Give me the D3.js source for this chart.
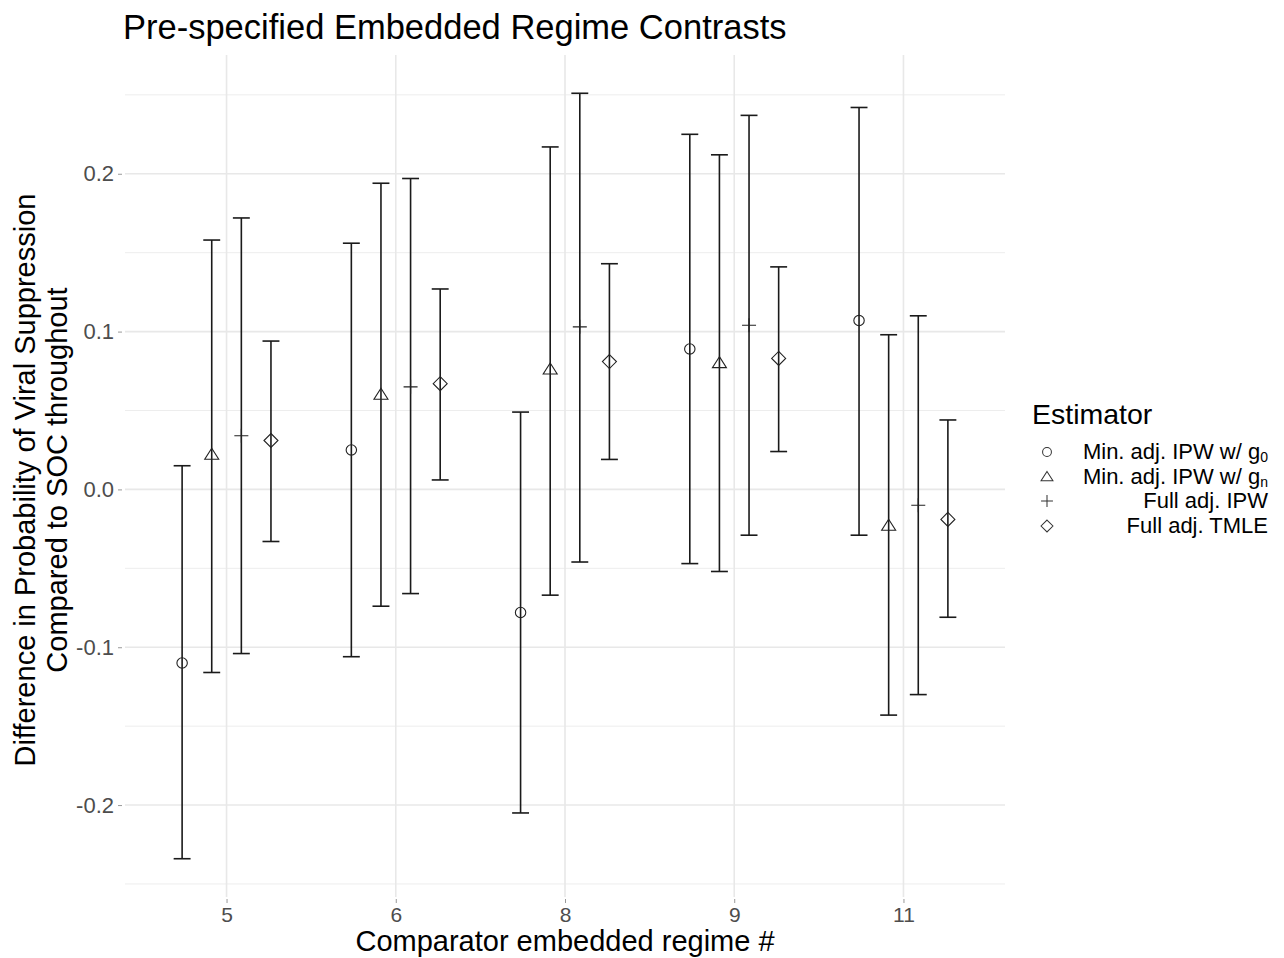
<!DOCTYPE html>
<html>
<head>
<meta charset="utf-8">
<script src="https://cdn.jsdelivr.net/npm/d3@7"></script>
<style>
  body { margin: 0; background: #fff; }
  svg { font-family: "Liberation Sans", Arial, Helvetica, sans-serif; }
</style>
</head>
<body>
<div id="drawing"></div>
<script>
// values
const regimes = ["5", "6", "8", "9", "11"];
const estimators = ["g0", "gn", "ipw", "tmle"];
const estimatorShapes = ["circle", "triangle", "plus", "diamond"];

const g0Est = [-0.110, 0.025, -0.078, 0.089, 0.107];
const g0Lo = [-0.234, -0.106, -0.205, -0.047, -0.029];
const g0Hi = [0.015, 0.156, 0.049, 0.225, 0.242];

const gnEst = [0.022, 0.060, 0.076, 0.080, -0.023];
const gnLo = [-0.116, -0.074, -0.067, -0.052, -0.143];
const gnHi = [0.158, 0.194, 0.217, 0.212, 0.098];

const ipwEst = [0.034, 0.065, 0.103, 0.104, -0.010];
const ipwLo = [-0.104, -0.066, -0.046, -0.029, -0.130];
const ipwHi = [0.172, 0.197, 0.251, 0.237, 0.110];

const tmleEst = [0.031, 0.067, 0.081, 0.083, -0.019];
const tmleLo = [-0.033, 0.006, 0.019, 0.024, -0.081];
const tmleHi = [0.094, 0.127, 0.143, 0.141, 0.044];

const yTicks = [-0.2, -0.1, 0.0, 0.1, 0.2];
const yMinor = [-0.25, -0.15, -0.05, 0.05, 0.15, 0.25];

const series = [
  { key: "g0", est: g0Est, lo: g0Lo, hi: g0Hi },
  { key: "gn", est: gnEst, lo: gnLo, hi: gnHi },
  { key: "ipw", est: ipwEst, lo: ipwLo, hi: ipwHi },
  { key: "tmle", est: tmleEst, lo: tmleLo, hi: tmleHi },
];

// flatten into rows
const rows = [];
series.forEach((s, si) => {
  regimes.forEach((r, ri) => {
    rows.push({ regime: r, idx: si, est: s.est[ri], lo: s.lo[ri], hi: s.hi[ri] });
  });
});

const W = 1284, H = 958;
const pLeft = 125, pRight = 1005, pTop = 55, pBottom = 897;

const svg = d3.select("#drawing").append("svg")
  .attr("width", W).attr("height", H);

const allLo = d3.min(rows, d => d.lo), allHi = d3.max(rows, d => d.hi);
const pad = (allHi - allLo) * 0.05;

const xScale = d3.scalePoint().domain(regimes).range([pLeft, pRight]).padding(0.6);
const yScale = d3.scaleLinear().domain([allLo - pad, allHi + pad]).range([pBottom, pTop]);

const step = xScale.step();
const dodge = 0.7 * step / 4;
const capHalf = 0.05 * step;
const xPos = d => xScale(d.regime) + (d.idx - 1.5) * dodge;

// grid
const grid = svg.append("g");
grid.selectAll("line.minor").data(yMinor).enter().append("line")
  .attr("x1", pLeft).attr("x2", pRight)
  .attr("y1", d => yScale(d)).attr("y2", d => yScale(d))
  .attr("stroke", "#ededed").attr("stroke-width", 1);
grid.selectAll("line.major").data(yTicks).enter().append("line")
  .attr("x1", pLeft).attr("x2", pRight)
  .attr("y1", d => yScale(d)).attr("y2", d => yScale(d))
  .attr("stroke", "#e8e8e8").attr("stroke-width", 1.6);
grid.selectAll("line.vmajor").data(regimes).enter().append("line")
  .attr("x1", d => xScale(d)).attr("x2", d => xScale(d))
  .attr("y1", pTop).attr("y2", pBottom)
  .attr("stroke", "#e8e8e8").attr("stroke-width", 1.6);

// axes (ggplot prints a plain hyphen for negatives)
const fmt = d => d3.format(".1f")(d).replace("\u2212", "-");
const yAxis = svg.append("g")
  .attr("transform", `translate(${pLeft - 3},0)`)
  .call(d3.axisLeft(yScale).tickValues(yTicks).tickFormat(fmt).tickSize(4).tickPadding(4));
yAxis.select(".domain").remove();
yAxis.selectAll("line").attr("stroke", "#999");
yAxis.selectAll("text").attr("fill", "#4d4d4d").style("font-size", "22px")
  .style("font-family", "'Liberation Sans', Arial, sans-serif");

const xAxis = svg.append("g")
  .attr("transform", `translate(0,${pBottom + 2})`)
  .call(d3.axisBottom(xScale).tickSize(4).tickPadding(4));
xAxis.select(".domain").remove();
xAxis.selectAll("line").attr("stroke", "#999");
xAxis.selectAll("text").attr("fill", "#4d4d4d").style("font-size", "21px")
  .style("font-family", "'Liberation Sans', Arial, sans-serif");

// error bars
const bars = svg.append("g").attr("stroke", "#1a1a1a").attr("stroke-width", 1.6).attr("fill", "none");
bars.selectAll("line.v").data(rows).enter().append("line")
  .attr("x1", xPos).attr("x2", xPos)
  .attr("y1", d => yScale(d.lo)).attr("y2", d => yScale(d.hi));
bars.selectAll("line.top").data(rows).enter().append("line")
  .attr("x1", d => xPos(d) - capHalf).attr("x2", d => xPos(d) + capHalf)
  .attr("y1", d => yScale(d.hi)).attr("y2", d => yScale(d.hi));
bars.selectAll("line.bot").data(rows).enter().append("line")
  .attr("x1", d => xPos(d) - capHalf).attr("x2", d => xPos(d) + capHalf)
  .attr("y1", d => yScale(d.lo)).attr("y2", d => yScale(d.lo));

// point shapes (ggplot 1, 2, 3, 5)
function shapePath(kind) {
  if (kind === "circle") return d3.symbol(d3.symbolCircle, 85)();
  if (kind === "triangle") return "M0,-6.5L7,4.5L-7,4.5Z";
  if (kind === "plus") return "M-7,0L7,0M0,-7L0,7";
  return "M0,-7L7,0L0,7L-7,0Z";
}

svg.append("g").selectAll("path").data(rows).enter().append("path")
  .attr("transform", d => `translate(${xPos(d)},${yScale(d.est)})`)
  .attr("d", d => shapePath(estimatorShapes[d.idx]))
  .attr("fill", "none").attr("stroke", "#222").attr("stroke-width", 1.1);

// title
svg.append("text").attr("x", pLeft - 2).attr("y", 39)
  .style("font-size", "34.5px").attr("fill", "#000")
  .text("Pre-specified Embedded Regime Contrasts");

// axis titles
svg.append("text").attr("x", (pLeft + pRight) / 2).attr("y", 951)
  .attr("text-anchor", "middle").style("font-size", "29px")
  .text("Comparator embedded regime #");

const yTitle = svg.append("text")
  .attr("transform", `translate(0,${(pTop + pBottom) / 2 + 4}) rotate(-90)`)
  .attr("text-anchor", "middle").style("font-size", "29px");
yTitle.append("tspan").attr("x", 0).attr("y", 35).text("Difference in Probability of Viral Suppression");
yTitle.append("tspan").attr("x", 0).attr("y", 67).text("Compared to SOC throughout");

// legend
const legend = svg.append("g");
legend.append("text").attr("x", 1032).attr("y", 424)
  .style("font-size", "28.5px").text("Estimator");

const legendLabels = [
  ["Min. adj. IPW w/ g", "0"],
  ["Min. adj. IPW w/ g", "n"],
  ["Full adj. IPW", ""],
  ["Full adj. TMLE", ""],
];
const rowY = [452, 477, 501, 526];

estimators.forEach((e, i) => {
  legend.append("path")
    .attr("transform", `translate(1047,${rowY[i]}) scale(0.85)`)
    .attr("d", shapePath(estimatorShapes[i]))
    .attr("fill", "none").attr("stroke", "#333").attr("stroke-width", 1.2);
  const t = legend.append("text").attr("x", 1268).attr("y", rowY[i] + 7)
    .attr("text-anchor", "end").style("font-size", "22px");
  t.append("tspan").text(legendLabels[i][0]);
  if (legendLabels[i][1]) {
    t.append("tspan").attr("dy", 3).style("font-size", "14px").text(legendLabels[i][1]);
  }
});
</script>
</body>
</html>
